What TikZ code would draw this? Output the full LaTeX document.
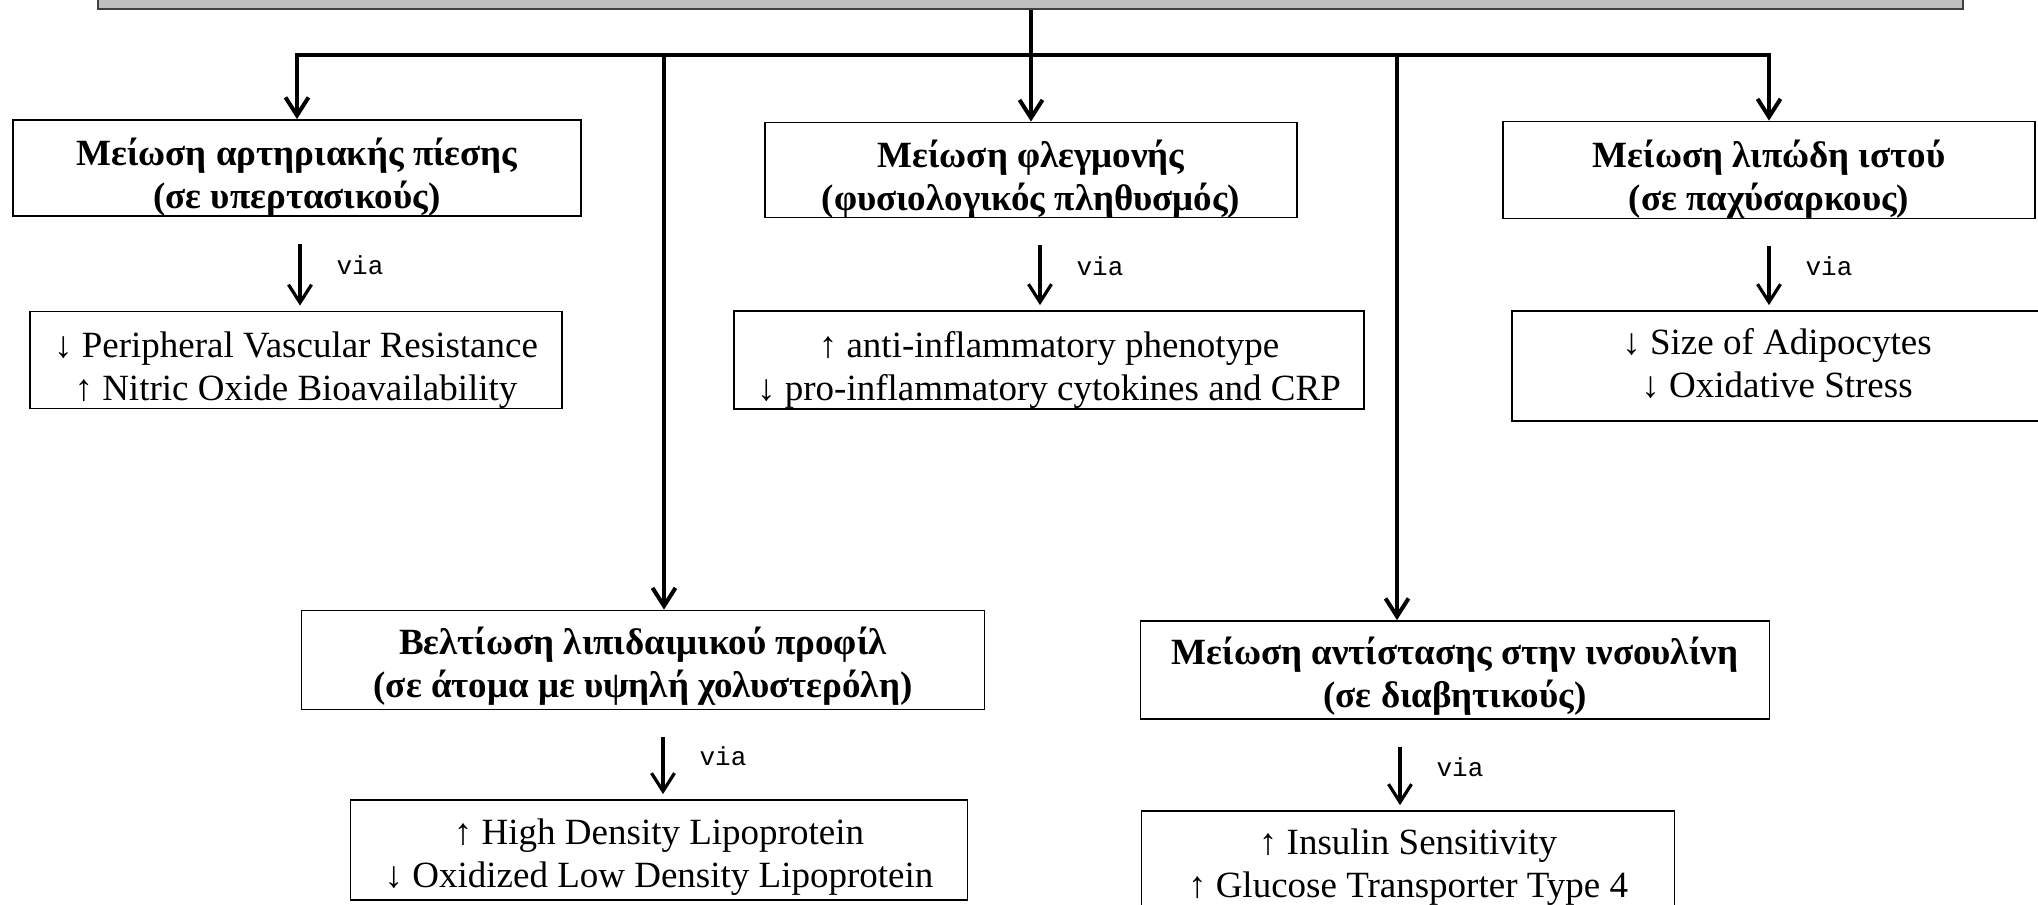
\documentclass[tikz,border=0pt]{standalone}
\usepackage{fontspec}
\setmainfont{Liberation Serif}
\newfontfamily\viafont{Liberation Mono}
\usetikzlibrary{arrows.meta}
\newcommand\boxtext[2]{\raisebox{-#1}[\height][\depth]{\begin{tabular}{@{}c@{}}#2\end{tabular}}}
\begin{document}
\begin{tikzpicture}[x=0.5pt,y=-0.5pt,
  >={Straight Barb[length=9pt,width=11.5pt]},
  box/.style={draw, line width=0.9pt, inner sep=0pt, font=\fontsize{18.5}{21.5}\selectfont},
  hbox/.style={box, font=\bfseries\fontsize{18.5}{21.5}\selectfont},
  conn/.style={line width=2pt, line join=miter},
  viaarrow/.style={line width=1.6pt, ->, shorten <=13.5pt, shorten >=2.5pt},
  vialabel/.style={anchor=west, inner sep=0pt, xshift=17.5pt, font=\viafont\fontsize{13}{14}\selectfont}
]
\useasboundingbox (0,0) rectangle (2038,904);
\clip (0,0) rectangle (2038,904);
% top grey box
\node[draw=black!75, fill=black!25, line width=1.3pt, minimum width=932.5pt, minimum height=34.5pt, inner sep=0pt] (top) at (1030.5,-25.5) {};
% first-level boxes
\node[hbox, minimum width=284pt, minimum height=48pt] (b1) at (297,168) {\boxtext{5pt}{Μείωση αρτηριακής πίεσης\\(σε υπερτασικούς)}};
\node[hbox, minimum width=266pt, minimum height=47.5pt] (b2) at (1031,170) {\boxtext{5pt}{Μείωση φλεγμονής\\(φυσιολογικός πληθυσμός)}};
\node[hbox, minimum width=266pt, minimum height=48.5pt] (b3) at (1769,170) {\boxtext{5pt}{Μείωση λιπώδη ιστού\\(σε παχύσαρκους)}};
\node[hbox, minimum width=341.5pt, minimum height=49.5pt] (b4) at (643,660) {\boxtext{3.5pt}{Βελτίωση λιπιδαιμικού προφίλ\\(σε άτομα με υψηλή χολυστερόλη)}};
\node[hbox, minimum width=314.5pt, minimum height=49pt] (b5) at (1455,670) {\boxtext{3.5pt}{Μείωση αντίστασης στην ινσουλίνη\\(σε διαβητικούς)}};
% mechanism boxes
\node[box, minimum width=266pt, minimum height=48.5pt] (b1v) at (296,360) {\boxtext{5pt}{↓ Peripheral Vascular Resistance\\↑ Nitric Oxide Bioavailability}};
\node[box, minimum width=315pt, minimum height=49pt] (b2v) at (1049,360) {\boxtext{5pt}{↑ anti-inflammatory phenotype\\↓ pro-inflammatory cytokines and CRP}};
\node[box, minimum width=265pt, minimum height=55pt] (b3v) at (1777,366) {\boxtext{0.5pt}{↓ Size of Adipocytes\\↓ Oxidative Stress}};
\node[box, minimum width=308.5pt, minimum height=50pt] (b4v) at (659,850) {\boxtext{3.5pt}{↑ High Density Lipoprotein\\↓ Oxidized Low Density Lipoprotein}};
\node[box, minimum width=266.5pt, minimum height=57pt] (b5v) at (1408,868) {\boxtext{-0.5pt}{↑ Insulin Sensitivity\\↑ Glucose Transporter Type 4}};
% helper coordinates
\coordinate (hy) at (0,55);
\coordinate (x4) at (664,0);
\coordinate (x5) at (1397,0);
\coordinate (v1) at (300,0);
\coordinate (v2) at (1040,0);
\coordinate (v3) at (1769,0);
\coordinate (v4) at (663,0);
\coordinate (v5) at (1400,0);
% connectors from the top box
\draw[conn, ->] (top.south -| b2.north) -- (b2.north);
\draw[conn, <->] (b1.north) |- (hy -| b3.north) -- (b3.north);
\draw[conn, ->] (hy -| x4) -- (b4.north -| x4);
\draw[conn, ->] (hy -| x5) -- (b5.north -| x5);
% via arrows
\draw[viaarrow] (b1.south -| v1) -- node[vialabel, pos=0.52] (l1) {via} (b1v.north -| v1);
\draw[viaarrow] (b2.south -| v2) -- node[vialabel, pos=0.52] (l2) {via} (b2v.north -| v2);
\draw[viaarrow] (b3.south -| v3) -- node[vialabel, pos=0.52] (l3) {via} (b3v.north -| v3);
\draw[viaarrow] (b4.south -| v4) -- node[vialabel, pos=0.52] (l4) {via} (b4v.north -| v4);
\draw[viaarrow] (b5.south -| v5) -- node[vialabel, pos=0.52] (l5) {via} (b5v.north -| v5);
\end{tikzpicture}
\end{document}
